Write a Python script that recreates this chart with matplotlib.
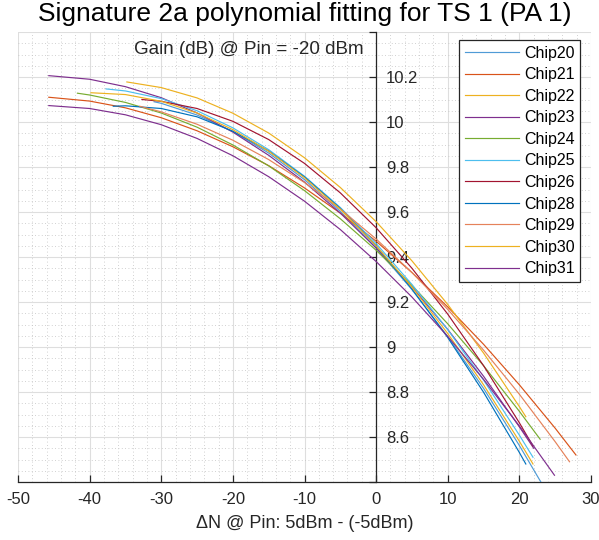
import numpy as np
import matplotlib
matplotlib.use("Agg")
import matplotlib.pyplot as plt
from matplotlib.ticker import MultipleLocator

plt.rcParams['font.family'] = ['Liberation Sans', 'DejaVu Sans']
plt.rcParams['axes.unicode_minus'] = False

# Fitted gain curves per chip: delta-N values and gain (dB)
chips = ["Chip20", "Chip21", "Chip22", "Chip23", "Chip24", "Chip25",
         "Chip26", "Chip28", "Chip29", "Chip30", "Chip31"]

chip20_x = [-31, -30, -25, -20, -15, -10, -5, 0, 5, 10, 15, 20, 23]
chip20_y = [10.09, 10.083, 10.031, 9.958, 9.862, 9.744, 9.603, 9.44, 9.255, 9.046, 8.816, 8.562, 8.40]

chip21_x = [-45.7, -40, -35, -30, -25, -20, -15, -10, -5, 0, 5, 10, 15, 20, 25, 27.9]
chip21_y = [10.11, 10.093, 10.063, 10.019, 9.961, 9.89, 9.806, 9.707, 9.595, 9.47, 9.331, 9.178, 9.012, 8.832, 8.639, 8.52]

chip22_x = [-34.8, -30, -25, -20, -15, -10, -5, 0, 5, 10, 15, 20, 20.9]
chip22_y = [10.178, 10.153, 10.107, 10.039, 9.951, 9.841, 9.709, 9.557, 9.383, 9.189, 8.973, 8.735, 8.69]

chip23_x = [-45.7, -40, -35, -30, -25, -20, -15, -10, -5, 0, 5, 10, 15, 20, 22]
chip23_y = [10.206, 10.19, 10.157, 10.108, 10.04, 9.955, 9.852, 9.733, 9.595, 9.44, 9.267, 9.078, 8.87, 8.645, 8.55]

chip24_x = [-41.7, -40, -35, -30, -25, -20, -15, -10, -5, 0, 5, 10, 15, 20, 22.9]
chip24_y = [10.128, 10.12, 10.087, 10.04, 9.977, 9.898, 9.805, 9.695, 9.57, 9.43, 9.274, 9.103, 8.917, 8.714, 8.59]

chip25_x = [-37.7, -35, -30, -25, -20, -15, -10, -5, 0, 5, 10, 15, 20, 21.9]
chip25_y = [10.147, 10.138, 10.104, 10.05, 9.974, 9.877, 9.759, 9.62, 9.46, 9.278, 9.077, 8.853, 8.608, 8.51]

chip26_x = [-32.7, -30, -25, -20, -15, -10, -5, 0, 5, 10, 15, 20, 21.9]
chip26_y = [10.10, 10.092, 10.06, 10.003, 9.922, 9.816, 9.685, 9.53, 9.35, 9.146, 8.917, 8.663, 8.56]

chip28_x = [-36.7, -35, -30, -25, -20, -15, -10, -5, 0, 5, 10, 15, 20, 20.9]
chip28_y = [10.07, 10.072, 10.06, 10.023, 9.959, 9.871, 9.756, 9.616, 9.45, 9.258, 9.042, 8.799, 8.531, 8.48]

chip29_x = [-33, -30, -25, -20, -15, -10, -5, 0, 5, 10, 15, 20, 25, 27]
chip29_y = [10.07, 10.045, 9.99, 9.919, 9.833, 9.731, 9.613, 9.48, 9.331, 9.167, 8.986, 8.79, 8.579, 8.49]

chip30_x = [-39.8, -35, -30, -25, -20, -15, -10, -5, 0, 5, 10, 15, 20, 21.9]
chip30_y = [10.13, 10.122, 10.092, 10.04, 9.966, 9.87, 9.752, 9.612, 9.45, 9.266, 9.06, 8.832, 8.581, 8.48]

chip31_x = [-45.7, -40, -35, -30, -25, -20, -15, -10, -5, 0, 5, 10, 15, 20, 24.9]
chip31_y = [10.073, 10.06, 10.032, 9.988, 9.927, 9.85, 9.757, 9.648, 9.522, 9.38, 9.222, 9.047, 8.856, 8.649, 8.43]

xs = [chip20_x, chip21_x, chip22_x, chip23_x, chip24_x, chip25_x,
      chip26_x, chip28_x, chip29_x, chip30_x, chip31_x]
ys = [chip20_y, chip21_y, chip22_y, chip23_y, chip24_y, chip25_y,
      chip26_y, chip28_y, chip29_y, chip30_y, chip31_y]

colors = ["#4f9bd6", "#D95319", "#EDB120", "#7E2F8E", "#77AC30", "#4DBEEE",
          "#A2142F", "#0072BD", "#E5825A", "#EDB120", "#7E2F8E"]

x_ticks = [-50, -40, -30, -20, -10, 0, 10, 20, 30]
y_ticks = [8.4, 8.6, 8.8, 9.0, 9.2, 9.4, 9.6, 9.8, 10.0, 10.2, 10.4]
y_tick_labels = ["", "8.6", "8.8", "9", "9.2", "9.4", "9.6", "9.8", "10", "10.2", ""]

axis_col = "#262626"

fig = plt.figure(figsize=(5.99, 5.40), dpi=100)
ax = fig.add_axes([18 / 599, 58 / 540, 573 / 599, 450 / 540])

for x, y, c, name in zip(xs, ys, colors, chips):
    ax.plot(x, y, color=c, lw=0.85, label=name, zorder=3)

ax.set_xlim(-50, 30)
ax.set_ylim(8.4, 10.4)
ax.set_xticks(x_ticks)
ax.set_xticklabels([str(v) for v in x_ticks])
ax.set_yticks(y_ticks)
ax.set_yticklabels(y_tick_labels)
ax.xaxis.set_minor_locator(MultipleLocator(2))
ax.yaxis.set_minor_locator(MultipleLocator(0.05))

# Grid: solid major, dotted minor
ax.grid(which='major', color='#dedede', lw=0.8, ls='-', zorder=0)
ax.grid(which='minor', color='#c2c2c2', lw=0.6, ls=(0, (1, 3)), zorder=0)
ax.set_axisbelow(True)

# Y axis drawn through x = 0, labels on its right side
for s in ['left', 'top']:
    ax.spines[s].set_visible(False)
ax.spines['right'].set_position(('data', 0))
ax.spines['right'].set_color(axis_col)
ax.spines['bottom'].set_color(axis_col)
ax.spines['right'].set_linewidth(0.9)
ax.spines['bottom'].set_linewidth(0.9)
ax.yaxis.tick_right()
ax.tick_params(axis='y', which='major', direction='in', length=5, width=0.9,
               colors=axis_col, labelsize=12, pad=7)
ax.tick_params(axis='x', which='major', direction='in', length=5, width=0.9,
               colors=axis_col, labelsize=12, pad=7)
ax.tick_params(which='minor', length=0)

ax.set_xlabel("\u0394N @ Pin: 5dBm - (-5dBm)", fontsize=13, color=axis_col, labelpad=6)
ax.text(-1.8, 10.32, "Gain (dB) @ Pin = -20 dBm", fontsize=13.5, color=axis_col,
        ha='right', va='center')
fig.suptitle("Signature 2a polynomial fitting for TS 1 (PA 1)", fontsize=19,
             x=(18 + 573 / 2) / 599, y=0.996, va='top')

leg = ax.legend(loc='upper right', bbox_to_anchor=(0.981, 0.982), borderaxespad=0,
                fontsize=11.5, handlelength=3.4, handletextpad=0.3, labelspacing=0.41,
                fancybox=False, framealpha=1, edgecolor=axis_col, borderpad=0.35)
leg.get_frame().set_linewidth(0.9)

fig.savefig("out.png", dpi=100)
